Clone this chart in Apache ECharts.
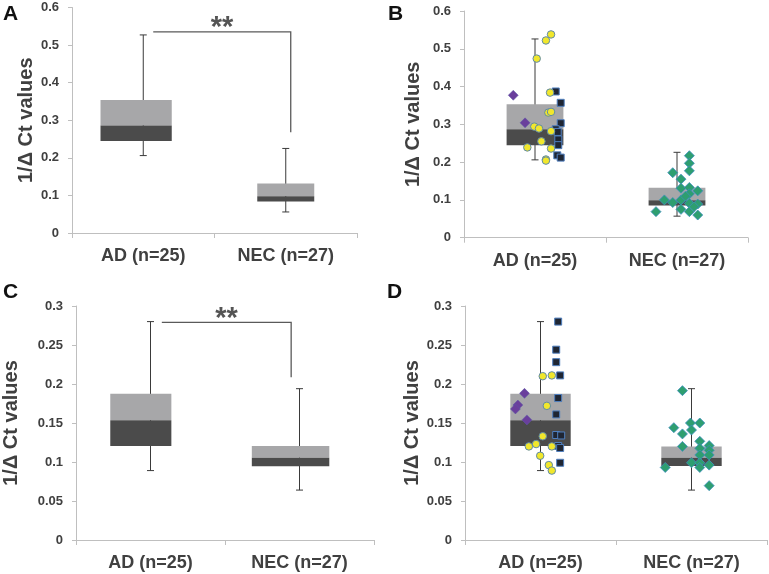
<!DOCTYPE html>
<html><head><meta charset="utf-8">
<script src="https://cdn.jsdelivr.net/npm/echarts@6/dist/echarts.min.js"></script>
<style>html,body{margin:0;padding:0;background:#fff}#c{width:769px;height:574px}</style>
</head><body><div id="c"></div>
<script>
// ---------- data ----------
const categories = ['AD (n=25)', 'NEC (n=27)'];
const yAxisName = '1/\u0394 Ct values';
const panelLetters = ['A', 'B', 'C', 'D'];
// axis ranges (top row / bottom row)
const yMaxTop = 0.6, yIntervalTop = 0.1;
const yMaxBottom = 0.3, yIntervalBottom = 0.05;

// box stats: [categoryIndex, min, q1, median, q3, max]
const boxA = [[0, 0.206, 0.245, 0.286, 0.354, 0.527], [1, 0.056, 0.084, 0.098, 0.132, 0.225]];
const boxB = [[0, 0.206, 0.245, 0.287, 0.353, 0.526], [1, 0.057, 0.085, 0.099, 0.132, 0.226]];
const boxC = [[0, 0.089, 0.1205, 0.1535, 0.1876, 0.280], [1, 0.064, 0.0947, 0.1055, 0.1205, 0.194]];
const boxD = [[0, 0.089, 0.1205, 0.1534, 0.1876, 0.280], [1, 0.064, 0.0949, 0.1056, 0.1200, 0.194]];

// significance brackets: [fromX, toX, topY, dropY] in axis units, plus label
const bracketA = [0.57, 1.535, 0.535, 0.268];
const bracketC = [0.576, 1.444, 0.279, 0.2086];
const sigLabel = '**';

// panel B scatter (AD: yellow circles, purple diamonds, dark squares; NEC: green diamonds)
const bYellowVal = [0.538, 0.522, 0.474, 0.384, 0.331, 0.333, 0.294, 0.289, 0.282, 0.255, 0.239, 0.236, 0.207, 0.204];
const bYellowJit = [0.113, 0.077, 0.012, 0.106, 0.094, 0.113, -0.005, 0.028, 0.113, 0.045, -0.054, 0.113, 0.077, 0.077];
const bPurpleVal = [0.377, 0.304];
const bPurpleJit = [-0.153, -0.070];
const bSquareVal = [0.387, 0.357, 0.303, 0.287, 0.260, 0.245, 0.218, 0.212, 0.280];
const bSquareJit = [0.146, 0.181, 0.181, 0.146, 0.164, 0.164, 0.157, 0.181, 0.160];
const bGreenVal = [0.217, 0.197, 0.177, 0.172, 0.155, 0.131, 0.133, 0.124, 0.116, 0.100, 0.093, 0.100, 0.091, 0.089, 0.069, 0.075, 0.069, 0.060, 0.110, 0.082];
const bGreenJit = [0.087, 0.087, 0.087, -0.030, 0.028, 0.028, 0.087, 0.146, 0.087, -0.089, -0.030, 0.028, 0.087, 0.146, -0.148, 0.028, 0.087, 0.146, 0.060, 0.120];

// panel D scatter
const dYellowVal = [0.210, 0.211, 0.172, 0.133, 0.123, 0.120, 0.120, 0.108, 0.096, 0.089];
const dYellowJit = [0.015, 0.075, 0.042, 0.015, -0.029, -0.077, 0.075, -0.002, 0.055, 0.075];
const dPurpleVal = [0.188, 0.173, 0.168, 0.154];
const dPurpleJit = [-0.106, -0.150, -0.166, -0.090];
const dSquareVal = [0.280, 0.244, 0.228, 0.211, 0.182, 0.161, 0.1346, 0.134, 0.1205, 0.118, 0.099];
const dSquareJit = [0.117, 0.104, 0.104, 0.130, 0.117, 0.104, 0.104, 0.137, 0.117, 0.130, 0.130];
const dGreenVal = [0.1915, 0.144, 0.150, 0.150, 0.136, 0.141, 0.1265, 0.120, 0.1175, 0.121, 0.115, 0.109, 0.109, 0.093, 0.099, 0.099, 0.093, 0.096, 0.0697];
const dGreenJit = [-0.060, -0.117, -0.007, 0.055, -0.060, 0.000, 0.055, -0.060, 0.055, 0.117, 0.117, 0.055, 0.117, -0.174, 0.000, 0.055, 0.055, 0.117, 0.117];

// ---------- layout / style ----------
const FONT = 'Liberation Sans, Arial, sans-serif';
const TXT = '#404040';
const AXC = '#bfbfbf';
const panels = [
  { grid: { left: 72, top: 7.5, width: 285, height: 225.5 }, yMax: yMaxTop, yInt: yIntervalTop, box: boxA, boxW: [[-0.30, 0.20], [-0.20, 0.20]], nameGap: 36, bracket: bracketA, letter: [3, 4] },
  { grid: { left: 464, top: 11, width: 284, height: 226.7 }, yMax: yMaxTop, yInt: yIntervalTop, box: boxB, boxW: [[-0.20, 0.20], [-0.20, 0.20]], nameGap: 41, scatter: [bYellowVal, bYellowJit, bPurpleVal, bPurpleJit, bSquareVal, bSquareJit, bGreenVal, bGreenJit], letter: [388, 4] },
  { grid: { left: 72, top: 306, width: 302, height: 234 }, yMax: yMaxBottom, yInt: yIntervalBottom, box: boxC, boxW: [[-0.27, 0.14], [-0.32, 0.20]], nameGap: 55, bracket: bracketC, letter: [3, 282] },
  { grid: { left: 465, top: 306, width: 302, height: 234 }, yMax: yMaxBottom, yInt: yIntervalBottom, box: boxD, boxW: [[-0.20, 0.20], [-0.20, 0.20]], nameGap: 41, scatter: [dYellowVal, dYellowJit, dPurpleVal, dPurpleJit, dSquareVal, dSquareJit, dGreenVal, dGreenJit], letter: [387, 282] }
];

const grid = [], xAxis = [], yAxis = [], series = [], graphic = [];
const zip = (vals, jits, cat) => vals.map((v, i) => [cat + 0.5 + jits[i], v]);

panels.forEach((p, i) => {
  grid.push(p.grid);
  xAxis.push({
    type: 'category', gridIndex: i, data: categories, boundaryGap: true,
    axisLine: { lineStyle: { color: AXC, width: 1 } },
    axisTick: { show: true, length: 5, lineStyle: { color: AXC } },
    axisLabel: { color: TXT, fontSize: 18, fontWeight: 'bold', fontFamily: FONT, margin: 14 }
  });
  xAxis.push({ type: 'value', gridIndex: i, min: 0, max: 2, show: false });
  yAxis.push({
    type: 'value', gridIndex: i, min: 0, max: p.yMax, interval: p.yInt,
    name: yAxisName, nameLocation: 'middle', nameGap: p.nameGap,
    nameTextStyle: { color: TXT, fontSize: 20, fontWeight: 'bold', fontFamily: FONT },
    axisLine: { show: true, lineStyle: { color: AXC, width: 1 } },
    axisTick: { show: true, length: 4, lineStyle: { color: AXC } },
    splitLine: { show: false },
    axisLabel: { color: TXT, fontSize: 13, fontWeight: 'bold', fontFamily: FONT, margin: 13 }
  });
  const widths = p.boxW;
  series.push({
    type: 'custom', xAxisIndex: 2 * i + 1, yAxisIndex: i, data: p.box, z: 2,
    encode: { x: 0, y: [1, 2, 3, 4, 5] },
    renderItem: (params, api) => {
      const ci = api.value(0);
      const cx = api.coord([ci + 0.5, 0])[0];
      const band = api.size([1, 0])[0];
      const w = widths[ci];
      const x0 = cx + w[0] * band, x1 = cx + w[1] * band;
      const yv = k => api.coord([0, api.value(k)])[1];
      const yMin = yv(1), yQ1 = yv(2), yMed = yv(3), yQ3 = yv(4), yMaxP = yv(5);
      const st = { stroke: '#3a3a3a', lineWidth: 1 };
      return {
        type: 'group', children: [
          { type: 'line', shape: { x1: cx, y1: yMin, x2: cx, y2: yMaxP }, style: st },
          { type: 'line', shape: { x1: cx - 3.5, y1: yMin, x2: cx + 3.5, y2: yMin }, style: st },
          { type: 'line', shape: { x1: cx - 3.5, y1: yMaxP, x2: cx + 3.5, y2: yMaxP }, style: st },
          { type: 'rect', shape: { x: x0, y: yQ3, width: x1 - x0, height: yMed - yQ3 }, style: { fill: '#a7a7a9' } },
          { type: 'rect', shape: { x: x0, y: yMed, width: x1 - x0, height: yQ1 - yMed }, style: { fill: '#4b4b4b' } }
        ]
      };
    }
  });
  if (p.bracket) {
    series.push({
      type: 'custom', xAxisIndex: 2 * i + 1, yAxisIndex: i, data: [p.bracket], z: 3,
      renderItem: (params, api) => {
        const a = api.coord([api.value(0), api.value(2)]);
        const b = api.coord([api.value(1), api.value(2)]);
        const c = api.coord([api.value(1), api.value(3)]);
        return {
          type: 'group', children: [
            { type: 'polyline', shape: { points: [a, b, c] }, style: { stroke: '#5a5a5a', lineWidth: 1.3, fill: null } },
            { type: 'text', x: (a[0] + b[0]) / 2, y: a[1] - 3.5, style: { text: sigLabel, fill: '#555', font: 'bold 29px ' + FONT, align: 'center', verticalAlign: 'middle' } }
          ]
        };
      }
    });
  }
  if (p.scatter) {
    const s = p.scatter;
    series.push({ type: 'scatter', xAxisIndex: 2 * i + 1, yAxisIndex: i, z: 4, symbol: 'rect', symbolSize: 7,
      itemStyle: { color: '#1f2633', borderColor: '#4f7fbf', borderWidth: 1, opacity: 1 }, data: zip(s[4], s[5], 0) });
    series.push({ type: 'scatter', xAxisIndex: 2 * i + 1, yAxisIndex: i, z: 5, symbol: 'circle', symbolSize: 7.5,
      itemStyle: { color: '#f1e72c', borderColor: '#5f8aa8', borderWidth: 1, opacity: 1 }, data: zip(s[0], s[1], 0) });
    series.push({ type: 'scatter', xAxisIndex: 2 * i + 1, yAxisIndex: i, z: 5, symbol: 'diamond', symbolSize: 10,
      itemStyle: { color: '#6a3f9c', borderColor: '#5a5aa8', borderWidth: 0.5, opacity: 1 }, data: zip(s[2], s[3], 0) });
    series.push({ type: 'scatter', xAxisIndex: 2 * i + 1, yAxisIndex: i, z: 5, symbol: 'diamond', symbolSize: 10,
      itemStyle: { color: '#2e9e70', borderColor: '#3f8fbf', borderWidth: 0.8, opacity: 1 }, data: zip(s[6], s[7], 1) });
  }
  graphic.push({ type: 'text', left: p.letter[0], top: p.letter[1], style: { text: panelLetters[i], fill: '#111', font: 'bold 21px ' + FONT } });
});

const chart = echarts.init(document.getElementById('c'), null, { renderer: 'canvas' });
chart.setOption({ animation: false, backgroundColor: '#fff', grid, xAxis, yAxis, series, graphic });
</script></body></html>
